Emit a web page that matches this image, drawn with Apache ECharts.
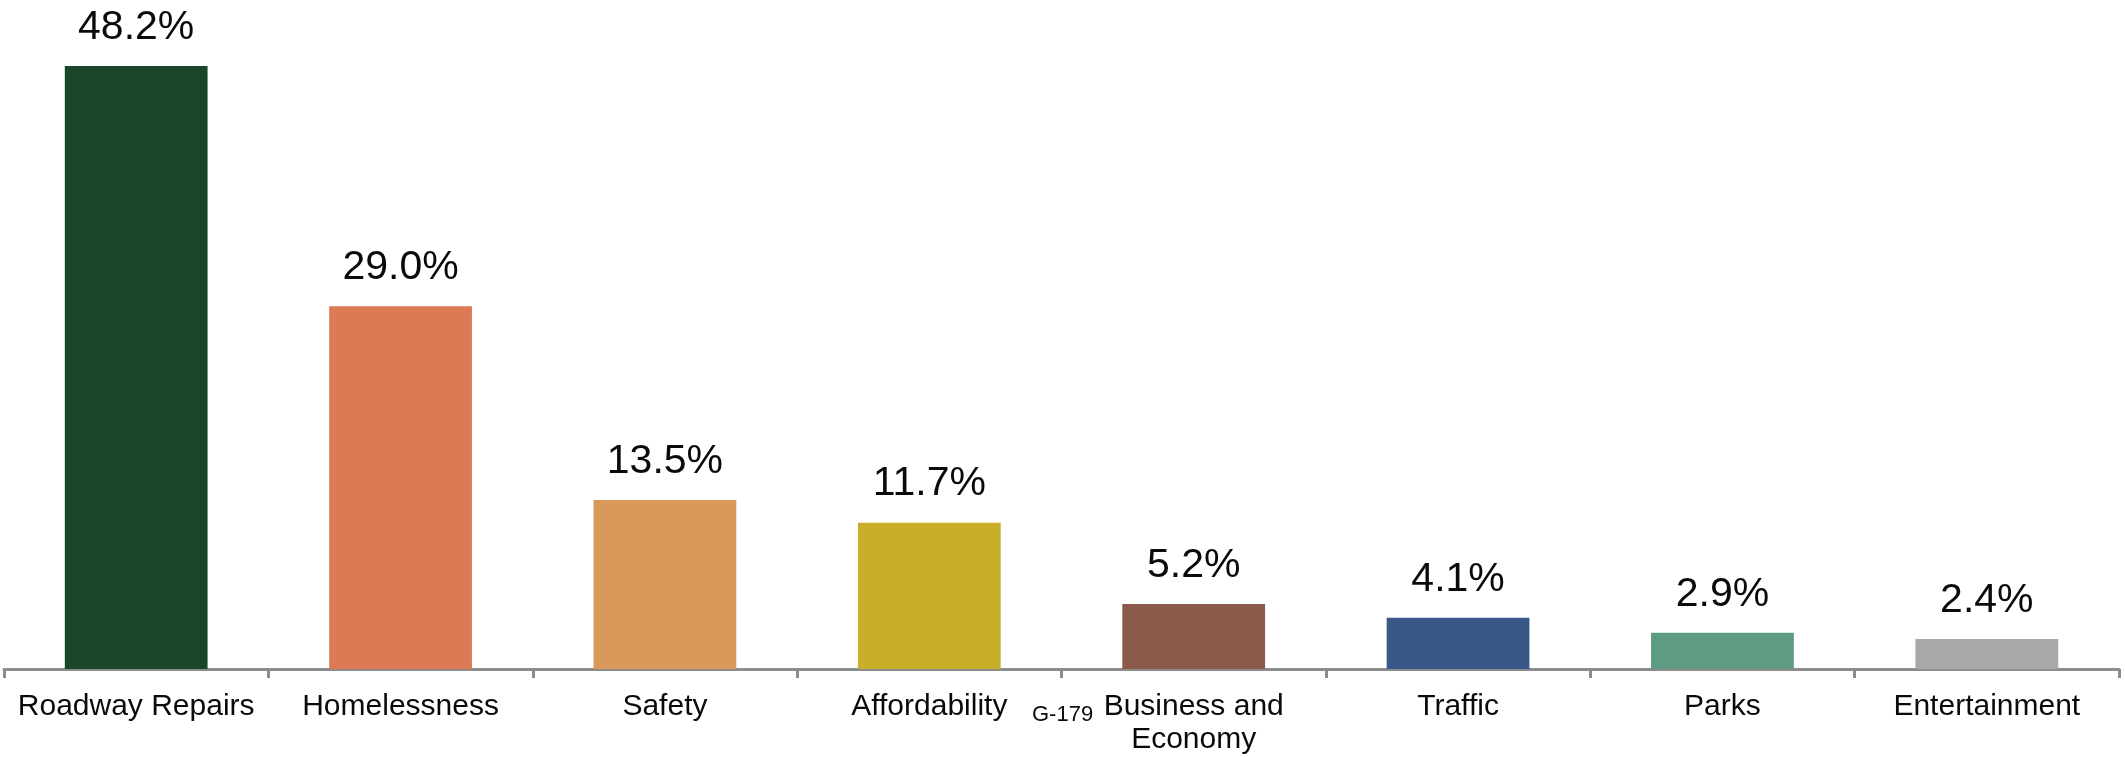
<!DOCTYPE html>
<html>
<head>
<meta charset="utf-8">
<script src="https://cdn.jsdelivr.net/npm/echarts@6/dist/echarts.min.js"></script>
<style>
html,body{margin:0;padding:0;background:#fff;}
#chart{width:2125px;height:757px;}
</style>
</head>
<body>
<div id="chart"></div>
<script>
const categories = ["Roadway Repairs", "Homelessness", "Safety", "Affordability", "Business and\nEconomy", "Traffic", "Parks", "Entertainment"];
const values = [48.2, 29.0, 13.5, 11.7, 5.2, 4.1, 2.9, 2.4];
const colors = ["#1a4529", "#db7a55", "#d9995b", "#c9ae2a", "#8b5a4b", "#3a5887", "#5f9a83", "#a8a8a8"];
const pageNote = "G-179";

const chart = echarts.init(document.getElementById('chart'), null, {renderer: 'canvas'});
chart.setOption({
  backgroundColor: '#ffffff',
  animation: false,
  grid: {left: 4, right: 6, top: 43.5, bottom: 88, containLabel: false},
  xAxis: {
    type: 'category',
    data: categories,
    axisLine: {show: true, lineStyle: {color: '#8c8c8c', width: 3}},
    axisTick: {show: true, alignWithLabel: false, length: 9, lineStyle: {color: '#8c8c8c', width: 3}},
    axisLabel: {
      interval: 0, margin: 21, color: '#0a0a0a',
      fontFamily: 'Liberation Sans', fontSize: 30, lineHeight: 33
    }
  },
  yAxis: {
    type: 'value', min: 0, max: 50,
    show: false,
    splitLine: {show: false}
  },
  series: [{
    type: 'bar',
    data: values.map((v, i) => ({value: v, itemStyle: {color: colors[i]}})),
    barCategoryGap: '46%',
    label: {
      show: true, position: 'top', distance: 18,
      formatter: p => p.value.toFixed(1) + '%',
      color: '#0a0a0a', fontFamily: 'Liberation Sans', fontSize: 41, lineHeight: 41
    }
  }],
  graphic: [{
    type: 'text', left: 1032, top: 704,
    style: {text: pageNote, fill: '#0a0a0a', font: '22px "Liberation Sans"'}
  }]
});
</script>
</body>
</html>
